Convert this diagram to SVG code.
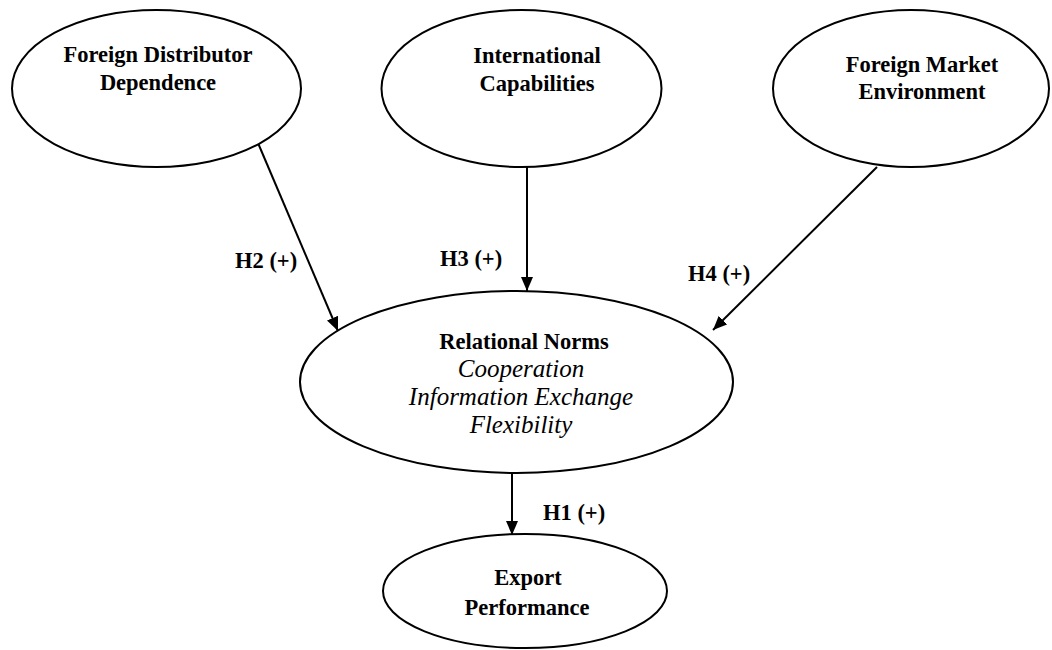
<svg xmlns="http://www.w3.org/2000/svg" width="1052" height="650" viewBox="0 0 1052 650">
<style>
.node ellipse{fill:#fff;stroke:#000;stroke-width:2}
.b{font-family:"Liberation Serif","Times New Roman",serif;font-weight:bold;font-size:22.5px;fill:#000;text-anchor:middle}
.i{font-family:"Liberation Serif","Times New Roman",serif;font-style:italic;font-size:25px;fill:#000;text-anchor:middle}
.lbl{font-family:"Liberation Serif","Times New Roman",serif;font-weight:bold;font-size:22.5px;fill:#000}
.conn line{stroke:#000;stroke-width:2;marker-end:url(#ah)}
</style>
<defs>
<marker id="ah" markerUnits="userSpaceOnUse" markerWidth="14" markerHeight="12" refX="14" refY="6" orient="auto">
<path d="M0,0 L14,6 L0,12 z" fill="#000"/>
</marker>
</defs>
<rect width="1052" height="650" fill="#fff"/>
<g id="connectors" class="conn">
<line x1="258" y1="143" x2="338" y2="331"/>
<line x1="527" y1="167" x2="527" y2="291"/>
<line x1="877" y1="167" x2="713" y2="330"/>
<line x1="512" y1="473" x2="512" y2="535"/>
</g>
<g id="fdd" class="node">
<ellipse cx="156.5" cy="88.5" rx="144.5" ry="78.5"/>
<text class="b" x="158" y="62">Foreign Distributor</text>
<text class="b" x="158" y="90">Dependence</text>
</g>
<g id="ic" class="node">
<ellipse cx="521.5" cy="88.5" rx="140" ry="78.5"/>
<text class="b" x="537" y="63">International</text>
<text class="b" x="537" y="91">Capabilities</text>
</g>
<g id="fme" class="node">
<ellipse cx="911" cy="88.5" rx="138" ry="78.5"/>
<text class="b" x="922" y="72">Foreign Market</text>
<text class="b" x="922" y="99">Environment</text>
</g>
<g id="rn" class="node">
<ellipse cx="516.5" cy="382" rx="216.5" ry="91"/>
<text class="b" x="524" y="349">Relational Norms</text>
<text class="i" x="521" y="377">Cooperation</text>
<text class="i" x="521" y="405">Information Exchange</text>
<text class="i" x="521" y="433">Flexibility</text>
</g>
<g id="ep" class="node">
<ellipse cx="525" cy="591" rx="142" ry="57"/>
<text class="b" x="528" y="585">Export</text>
<text class="b" x="527" y="615">Performance</text>
</g>
<g id="labels">
<text class="lbl" x="235" y="268">H2 (+)</text>
<text class="lbl" x="440" y="266">H3 (+)</text>
<text class="lbl" x="688" y="281">H4 (+)</text>
<text class="lbl" x="543" y="520">H1 (+)</text>
</g>
</svg>
